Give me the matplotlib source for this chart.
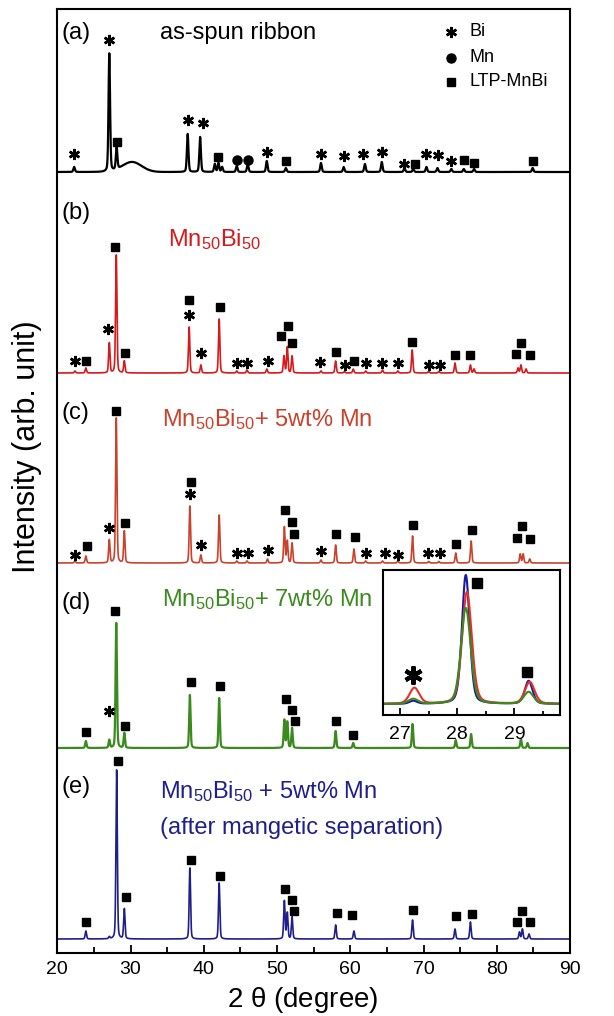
import numpy as np
import matplotlib.pyplot as plt

plt.rcParams['font.family'] = ['Liberation Sans', 'DejaVu Sans']
plt.rcParams['mathtext.default'] = 'regular'

# ---- peak data (2theta, height in px above each baseline) ----
pos_a = [22.3, 27.1, 28.1, 37.8, 39.5, 41.5, 42.0, 42.5, 44.5, 46.0, 48.6, 51.2, 56.0,
         59.1, 62.0, 64.3, 67.4, 68.6, 70.4, 71.9, 73.8, 75.5, 76.9, 84.9]
hgt_a = [5, 118, 22, 38, 35, 8, 9, 5, 6, 8, 11, 4, 9,
         5, 8, 10, 4, 3, 5, 4, 3, 3, 3, 4]
hump_a = (30.2, 10, 1.3)

pos_b = [22.4, 23.9, 27.1, 28.05, 29.15, 38.0, 39.6, 42.1, 44.5, 45.9, 48.6, 50.95, 51.4,
         52.05, 56.0, 58.0, 59.2, 60.4, 62.1, 64.4, 66.5, 68.45, 70.7, 72.1, 74.3, 76.4,
         76.9, 82.9, 83.3, 84.0]
hgt_b = [2, 5, 30, 118, 12, 46, 8, 54, 2, 3, 4, 17, 26,
         17, 2, 12, 1.5, 4, 2, 3, 2, 23, 1.5, 1.5, 10, 8,
         4, 5, 8, 4]

pos_c = [22.4, 23.9, 27.1, 28.05, 29.15, 38.1, 39.6, 42.1, 44.5, 45.9, 48.7, 51.0, 51.4,
         52.05, 56.0, 58.0, 60.5, 62.1, 64.4, 66.5, 68.5, 70.7, 72.1, 74.4, 76.5, 83.2,
         83.6, 84.5]
hgt_c = [2, 7, 23, 145, 32, 57, 8, 48, 2, 2, 4, 36, 22,
         20, 3, 18, 14, 2, 2, 2, 27, 1.5, 1.5, 10, 22, 9,
         9, 4]

pos_d = [23.9, 27.1, 28.05, 29.15, 38.1, 42.1, 51.0, 51.4, 52.05, 58.0, 60.4, 68.5,
         74.4, 76.5, 83.3, 84.2]
hgt_d = [7, 8, 125, 15, 53, 50, 28, 26, 20, 17, 5, 24,
         8, 14, 9, 5]

pos_e = [23.9, 27.1, 28.1, 29.15, 38.1, 42.1, 51.0, 51.4, 52.05, 58.0, 60.5, 68.5,
         74.3, 76.4, 83.1, 83.5, 84.4]
hgt_e = [8, 2, 169, 30, 71, 56, 38, 26, 22, 14, 8, 19,
         10, 17, 7, 10, 5]

# phase markers: (symbol, 2theta, height above baseline)
marks_a = [('*', 22.3, 18), ('*', 27.1, 132), ('s', 28.1, 30), ('*', 37.8, 52), ('*', 39.9, 49),
           ('s', 41.9, 15), ('o', 44.5, 12), ('o', 46.1, 12), ('*', 48.6, 20), ('s', 51.2, 11),
           ('*', 56.0, 18), ('*', 59.1, 16), ('*', 61.8, 18), ('*', 64.4, 20), ('*', 67.4, 8),
           ('s', 68.8, 8), ('*', 70.4, 18), ('*', 72.0, 17), ('*', 73.8, 11), ('s', 75.5, 12),
           ('s', 76.9, 9), ('s', 84.9, 11)]
marks_b = [('*', 22.4, 12), ('s', 23.9, 12), ('*', 26.9, 44), ('s', 27.9, 126), ('s', 29.3, 20),
           ('s', 38.0, 73), ('*', 38.0, 58), ('*', 39.6, 20), ('s', 42.2, 66), ('*', 44.5, 10),
           ('*', 45.9, 10), ('*', 48.7, 12), ('s', 50.5, 37), ('s', 51.5, 47), ('s', 52.1, 30),
           ('*', 55.9, 11), ('s', 58.0, 21), ('*', 59.3, 8), ('s', 60.5, 12), ('*', 62.1, 10),
           ('*', 64.4, 10), ('*', 66.5, 10), ('s', 68.4, 31), ('*', 70.7, 8), ('*', 72.3, 8),
           ('s', 74.3, 18), ('s', 76.4, 18), ('s', 82.6, 19), ('s', 83.3, 30), ('s', 84.5, 18)]
marks_c = [('*', 22.4, 8), ('s', 24.0, 17), ('*', 27.0, 35), ('s', 27.95, 152), ('s', 29.3, 40),
           ('s', 38.2, 81), ('*', 38.1, 69), ('*', 39.6, 18), ('*', 44.6, 10), ('*', 46.0, 10),
           ('*', 48.7, 13), ('s', 51.1, 53), ('s', 52.0, 41), ('s', 52.3, 29), ('*', 56.0, 12),
           ('s', 58.0, 29), ('s', 60.7, 26), ('*', 62.2, 10), ('*', 64.7, 10), ('*', 66.5, 8),
           ('s', 68.5, 38), ('*', 70.6, 10), ('*', 72.2, 10), ('s', 74.5, 19), ('s', 76.6, 33),
           ('s', 82.8, 25), ('s', 83.5, 37), ('s', 84.6, 24)]
marks_d = [('s', 23.9, 16), ('*', 27.0, 37), ('s', 27.9, 137), ('s', 29.3, 22), ('s', 38.3, 66),
           ('s', 42.2, 62), ('s', 51.2, 49), ('s', 52.1, 38), ('s', 52.4, 27), ('s', 58.1, 27),
           ('s', 60.4, 13)]
marks_e = [('s', 23.9, 17), ('s', 28.3, 178), ('s', 29.4, 42), ('s', 38.2, 79), ('s', 42.2, 63),
           ('s', 51.1, 50), ('s', 52.0, 39), ('s', 52.3, 28), ('s', 58.2, 26), ('s', 60.3, 24),
           ('s', 68.5, 29), ('s', 74.5, 23), ('s', 76.6, 25), ('s', 82.8, 17), ('s', 83.5, 28),
           ('s', 84.6, 17)]

# inset (zoom around 27-29.5 deg) peaks for e (blue), c (red), d (green)
pos_in_e = [27.23, 28.15, 29.25]
pos_in_c = [27.25, 28.17, 29.27]
pos_in_d = [27.23, 28.15, 29.25]
hin_e = [3, 129, 23]
hin_c = [16, 112, 22]
hin_d = [5, 96, 12]

baselines = [781, 580, 390, 205, 14]
colors = ['black', '#d7191c', '#c9432c', '#3b8a1e', '#1f1f8c']


def profile(x, pos, hgt, w):
    y = np.zeros_like(x)
    for p, h in zip(pos, hgt):
        g = np.exp(-4 * np.log(2) * ((x - p) / w) ** 2)
        l = 1.0 / (1 + 4 * ((x - p) / w) ** 2)
        y += h * (0.7 * g + 0.3 * l)
    return y


theta = np.linspace(20, 90, 14001)
curve_a = profile(theta, pos_a, hgt_a, 0.25)
curve_a += hump_a[1] * np.exp(-0.5 * ((theta - hump_a[0]) / hump_a[2]) ** 2)
curves = [curve_a,
          profile(theta, pos_b, hgt_b, 0.22),
          profile(theta, pos_c, hgt_c, 0.22),
          profile(theta, pos_d, hgt_d, 0.22),
          profile(theta, pos_e, hgt_e, 0.22)]
widths = [1.6, 1.2, 1.2, 1.6, 1.2]
all_marks = [marks_a, marks_b, marks_c, marks_d, marks_e]

fig = plt.figure(figsize=(6.14, 10.16), dpi=100)
ax = fig.add_axes([57.3 / 614, 63 / 1016, 512.7 / 614, 944 / 1016])

for curve, base, col, lw in zip(curves, baselines, colors, widths):
    ax.plot(theta, curve + base, color=col, lw=lw)

for marks, base in zip(all_marks, baselines):
    for sym, x, h in marks:
        if sym == '*':
            ax.plot(x, base + h, marker=(6, 2, 0), ms=8, mew=1.8, color='black')
        elif sym == 'o':
            ax.plot(x, base + h, marker='o', ms=6.5, color='black')
        else:
            ax.plot(x, base + h, marker='s', ms=5.5, color='black')

# legend
ax.plot(73.8, 921, marker=(6, 2, 0), ms=8, mew=1.8, color='black')
ax.plot(73.8, 895, marker='o', ms=6.5, color='black')
ax.plot(73.8, 871, marker='s', ms=5.5, color='black')
ax.text(76.3, 921, 'Bi', fontsize=13, va='center')
ax.text(76.3, 895, 'Mn', fontsize=13, va='center')
ax.text(76.3, 871, 'LTP-MnBi', fontsize=13, va='center')

# panel labels
for lab, y in zip(['(a)', '(b)', '(c)', '(d)', '(e)'], [920, 740, 540, 350, 166]):
    ax.text(20.6, y, lab, fontsize=17, va='center', ha='left')
ax.text(34.0, 920, 'as-spun ribbon', fontsize=17, va='center')
ax.text(35.1, 713, r'Mn$_{50}$Bi$_{50}$', fontsize=17, va='center', color=colors[1])
ax.text(34.3, 533, r'Mn$_{50}$Bi$_{50}$+ 5wt% Mn', fontsize=17, va='center', color=colors[2])
ax.text(34.3, 353, r'Mn$_{50}$Bi$_{50}$+ 7wt% Mn', fontsize=17, va='center', color=colors[3])
ax.text(34.0, 161, r'Mn$_{50}$Bi$_{50}$ + 5wt% Mn', fontsize=17, va='center', color=colors[4])
ax.text(34.0, 125, '(after mangetic separation)', fontsize=17, va='center', color=colors[4])

ax.set_xlim(20, 90)
ax.set_ylim(0, 944)
ax.set_yticks([])
ax.set_xticks(range(20, 91, 10))
ax.set_xticks(range(25, 90, 10), minor=True)
ax.tick_params(axis='x', which='major', direction='in', length=6, width=1.3, labelsize=14, pad=6)
ax.tick_params(axis='x', which='minor', direction='in', length=4, width=1.3)
for s in ax.spines.values():
    s.set_linewidth(1.5)

fig.text(303 / 614, 16 / 1016, r'2 $\theta$ (degree)', fontsize=20, ha='center', va='center')
fig.text(27 / 614, (1016 - 447) / 1016, 'Intensity (arb. unit)', fontsize=22,
         rotation=90, ha='center', va='center')

# inset
axin = fig.add_axes([383 / 614, 301 / 1016, 177 / 614, 145 / 1016])
th_in = np.linspace(26.7, 29.8, 1200)
axin.plot(th_in, profile(th_in, pos_in_e, hin_e, 0.16), color='#1a1aa0', lw=1.5)
axin.plot(th_in, profile(th_in, pos_in_c, hin_c, 0.2), color='#e8302a', lw=1.5)
axin.plot(th_in, profile(th_in, pos_in_d, hin_d, 0.2), color='#3b8a1e', lw=1.5)
axin.plot(27.23, 29, marker=(6, 2, 0), ms=13, mew=3, color='black')
axin.plot(28.34, 121, marker='s', ms=7, color='black')
axin.plot(29.23, 32, marker='s', ms=7, color='black')
axin.set_xlim(26.7, 29.8)
axin.set_ylim(-11, 134)
axin.set_yticks([])
axin.set_xticks([27, 28, 29])
axin.set_xticks([27.5, 28.5, 29.5], minor=True)
axin.tick_params(axis='x', which='major', direction='in', length=5, width=1.3, labelsize=14, pad=8)
axin.tick_params(axis='x', which='minor', direction='in', length=3, width=1.3)
for s in axin.spines.values():
    s.set_linewidth(1.5)

fig.savefig('out.png', dpi=100)
